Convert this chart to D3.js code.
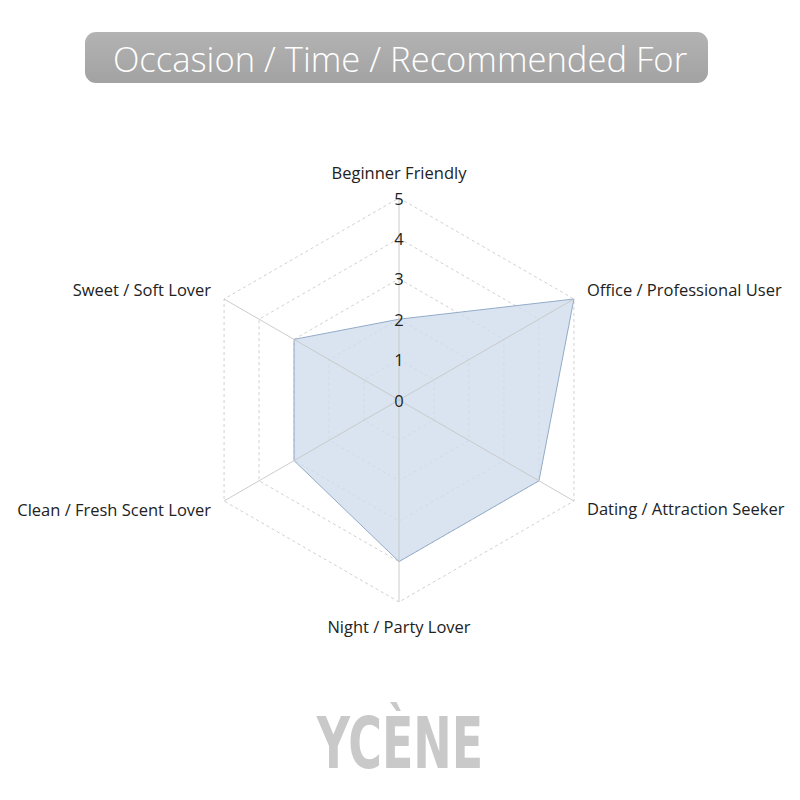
<!DOCTYPE html>
<html><head><meta charset="utf-8">
<script src="https://cdn.jsdelivr.net/npm/d3@7"></script>
<style>body{margin:0;background:#fff}svg{display:block}</style>
</head><body>
<svg id="c" width="800" height="800"></svg>
<script>
const categories = ["Beginner Friendly","Office / Professional User","Dating / Attraction Seeker","Night / Party Lover","Clean / Fresh Scent Lover","Sweet / Soft Lover"];
const values = [2,5,4,4,3,3];
const ticks = [0,1,2,3,4,5];
const title = "Occasion / Time / Recommended For";
const brand = "YCÈNE";

const svg = d3.select("#c");
const cx = 399, cy = 400, R = 202;
const r = d3.scaleLinear().domain([0,5]).range([0,R]);
const ang = d3.scaleLinear().domain([0,categories.length]).range([0,2*Math.PI]);
const pt = (i,v)=>[cx + r(v)*Math.sin(ang(i)), cy - r(v)*Math.cos(ang(i))];

// title
const defs = svg.append("defs");
const g1 = defs.append("linearGradient").attr("id","tg").attr("x1","0").attr("x2","0").attr("y1","0").attr("y2","1");
g1.append("stop").attr("offset","0").attr("stop-color","#b3b3b3");
g1.append("stop").attr("offset","1").attr("stop-color","#a2a2a2");
svg.append("rect").attr("x",85).attr("y",32).attr("width",623).attr("height",51).attr("rx",11).attr("fill","url(#tg)");
svg.append("text").attr("x",400).attr("y",58).attr("text-anchor","middle").attr("dominant-baseline","central")
  .attr("font-family","Open Sans").attr("font-weight",300).attr("font-size",34.6).attr("fill","#fff").text(title);

// grid rings
const ring = d3.line().curve(d3.curveLinearClosed);
svg.append("g").selectAll("path").data(ticks.slice(1)).join("path")
  .attr("d",t=>ring(categories.map((c,i)=>pt(i,t))))
  .attr("fill","none").attr("stroke","#c4c4c4").attr("stroke-width",0.8).attr("stroke-dasharray","3,3");

// data area
svg.append("path").attr("d",ring(values.map((v,i)=>pt(i,v))))
  .attr("fill","#cfdcec").attr("fill-opacity",0.78).attr("stroke","#93abc8").attr("stroke-width",1);

// spokes
svg.append("g").selectAll("line").data(categories).join("line")
  .attr("x1",cx).attr("y1",cy)
  .attr("x2",(c,i)=>pt(i,5)[0]).attr("y2",(c,i)=>pt(i,5)[1])
  .attr("stroke","#c6c6c6").attr("stroke-width",0.9);

// tick labels
svg.append("g").selectAll("text").data(ticks).join("text")
  .attr("x",cx).attr("y",t=>cy - r(t)).attr("text-anchor","middle").attr("dominant-baseline","central")
  .attr("font-family","Open Sans").attr("font-size",16.5).attr("fill","#222").text(t=>t);

// category labels
const lab = [
  {dx:0, dy:-26, a:"middle"},
  {dx:13, dy:-10, a:"start"},
  {dx:13, dy:7, a:"start"},
  {dx:0, dy:24, a:"middle"},
  {dx:-13, dy:8, a:"end"},
  {dx:-13, dy:-10, a:"end"}
];
svg.append("g").selectAll("text").data(categories).join("text")
  .attr("x",(c,i)=>pt(i,5)[0]+lab[i].dx).attr("y",(c,i)=>pt(i,5)[1]+lab[i].dy)
  .attr("text-anchor",(c,i)=>lab[i].a).attr("dominant-baseline","central")
  .attr("font-family","Open Sans").attr("font-size",16.5).attr("fill","#222").text(c=>c);

// brand
svg.append("text").attr("transform","translate(400,768) scale(0.71,1)").attr("text-anchor","middle")
  .attr("font-family","DejaVu Sans Condensed").attr("font-weight","bold").attr("font-size",72)
  .attr("fill","#c9c9c9").text(brand);
</script>
</body></html>
